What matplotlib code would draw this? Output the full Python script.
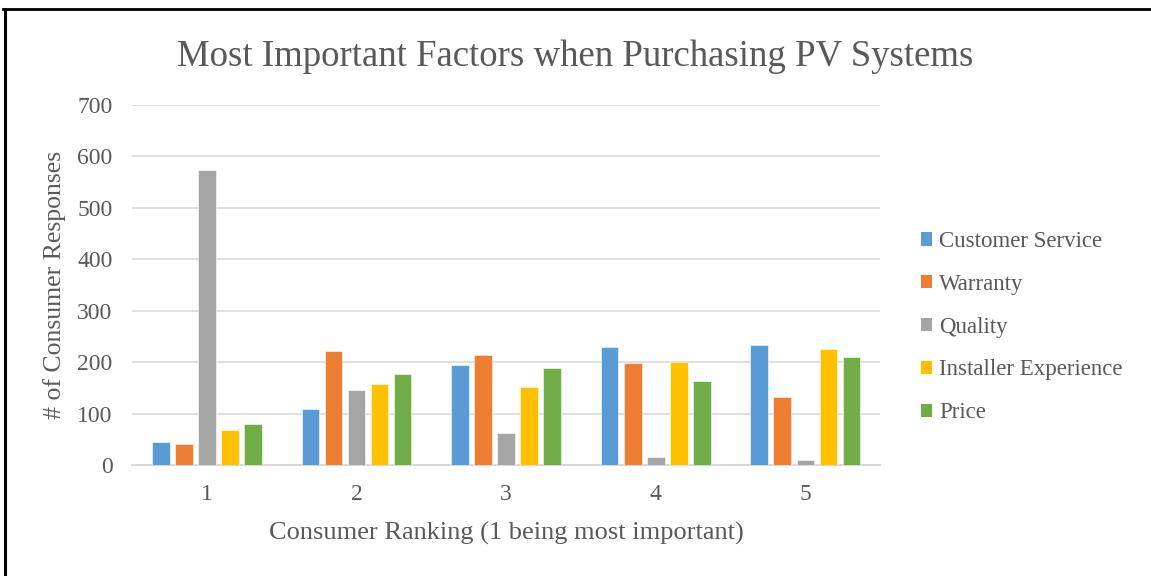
import matplotlib.pyplot as plt
import numpy as np
from matplotlib.lines import Line2D
from matplotlib.patches import Patch

rankings = ["1", "2", "3", "4", "5"]
series = ["Customer Service", "Warranty", "Quality", "Installer Experience", "Price"]
customer_service = [44, 108, 194, 229, 233]
warranty = [41, 221, 213, 199, 132]
quality = [573, 146, 63, 16, 9]
installer_experience = [69, 158, 151, 201, 225]
price = [79, 176, 188, 163, 210]
colors = ["#5B9BD5", "#ED7D31", "#A5A5A5", "#FFC000", "#70AD47"]

plt.rcParams["font.family"] = ["Liberation Serif", "DejaVu Serif"]
TXT = "#595959"

fig = plt.figure(figsize=(11.51, 5.76), dpi=100)
ax = fig.add_axes([0.1147, 0.1927, 0.65, 0.625])

x = np.arange(len(rankings))
slot = 0.154
width = 0.118
values = [customer_service, warranty, quality, installer_experience, price]
for i, (name, vals, c) in enumerate(zip(series, values, colors)):
    ax.bar(x + (i - 2) * slot, vals, width, color=c, label=name, zorder=3,
           edgecolor="white", linewidth=0.4)

ax.set_xlim(-0.5, len(rankings) - 0.5)
ax.set_ylim(0, 700)
ax.set_yticks(range(0, 701, 100))
ax.set_xticks(x)
ax.set_xticklabels(rankings)
ax.grid(axis="y", color="#D9D9D9", linewidth=1.2, zorder=0)
for s in ["top", "right", "left"]:
    ax.spines[s].set_visible(False)
ax.spines["bottom"].set_color("#D9D9D9")
ax.spines["bottom"].set_linewidth(1.5)
ax.tick_params(axis="both", length=0, labelsize=17, colors=TXT)
ax.tick_params(axis="y", pad=14)
ax.tick_params(axis="x", pad=14)

ax.set_ylabel("# of Consumer Responses", fontsize=18.5, color=TXT, labelpad=8)
ax.set_xlabel("Consumer Ranking (1 being most important)", fontsize=19, color=TXT, labelpad=12)
fig.text(0.5, 0.902, "Most Important Factors when Purchasing PV Systems",
         fontsize=26.5, color=TXT, ha="center", va="center")

handles = [Patch(facecolor=c, label=n) for n, c in zip(series, colors)]
fig.legend(handles=handles, loc="center left", bbox_to_anchor=(0.782, 0.432),
           frameon=False, fontsize=16.5, labelcolor=TXT, handlelength=0.5,
           handleheight=0.5, handletextpad=0.3, labelspacing=0.95)

fig.add_artist(Line2D([0.0045, 0.0045], [0, 0.985], color="black", linewidth=2.2,
                      transform=fig.transFigure))
fig.add_artist(Line2D([0.003, 1.0], [0.984, 0.984], color="black", linewidth=2.0,
                      transform=fig.transFigure))

fig.savefig("out.png", dpi=100, facecolor="white")
